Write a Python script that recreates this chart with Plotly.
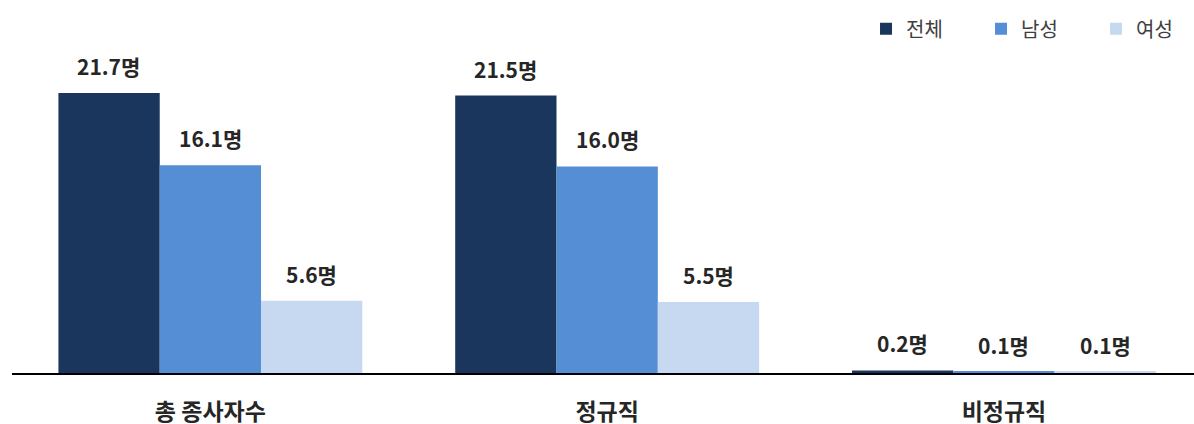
import plotly.graph_objects as go

categories = ["총 종사자수", "정규직", "비정규직"]
series_names = ["전체", "남성", "여성"]
total = [21.7, 21.5, 0.2]
male = [16.1, 16.0, 0.1]
female = [5.6, 5.5, 0.1]
colors = ["#1b365d", "#558ed5", "#c6d9f1"]

values = [total, male, female]
fig = go.Figure()
for name, vals, col in zip(series_names, values, colors):
    fig.add_trace(go.Bar(x=categories, y=vals, name=name, marker_color=col,
                         marker_line_width=0))

bar_px = 101.5
annotations = []
for i, vals in enumerate(values):
    for cat, v in zip(categories, vals):
        annotations.append(dict(
            x=cat, y=v, xref="x", yref="y", text=f"{v:.1f}명", showarrow=False,
            xshift=(i - 1) * bar_px, yshift=27, yanchor="middle",
            font=dict(family="Noto Sans CJK KR", size=21, color="#262626", weight="bold"),
        ))

fig.update_layout(
    width=1194, height=424,
    margin=dict(l=12, r=0, t=0, b=51, autoexpand=False),
    plot_bgcolor="white", paper_bgcolor="white",
    barmode="group", bargap=0.234, bargroupgap=0,
    showlegend=True,
    legend=dict(orientation="h", x=1.0144, xanchor="right", y=0.975, yanchor="top",
                font=dict(family="Noto Sans CJK KR", size=20, color="#404040"),
                itemwidth=30, entrywidth=70, entrywidthmode="pixels",
                traceorder="normal", bgcolor="rgba(0,0,0,0)"),
    annotations=annotations,
    xaxis=dict(range=[-0.5, 2.479], showline=True, linecolor="black", linewidth=1.5,
               ticks="", showgrid=False, zeroline=False, ticklabelstandoff=18, automargin=False,
               tickfont=dict(family="Noto Sans CJK KR", size=23, color="#262626", weight="bold")),
    yaxis=dict(range=[0, 28.9], visible=False, showgrid=False, zeroline=False, automargin=False),
)

fig.write_html("out.html", config={"displayModeBar": False},
               post_script="document.body.style.margin='0';document.body.style.overflow='hidden';")
